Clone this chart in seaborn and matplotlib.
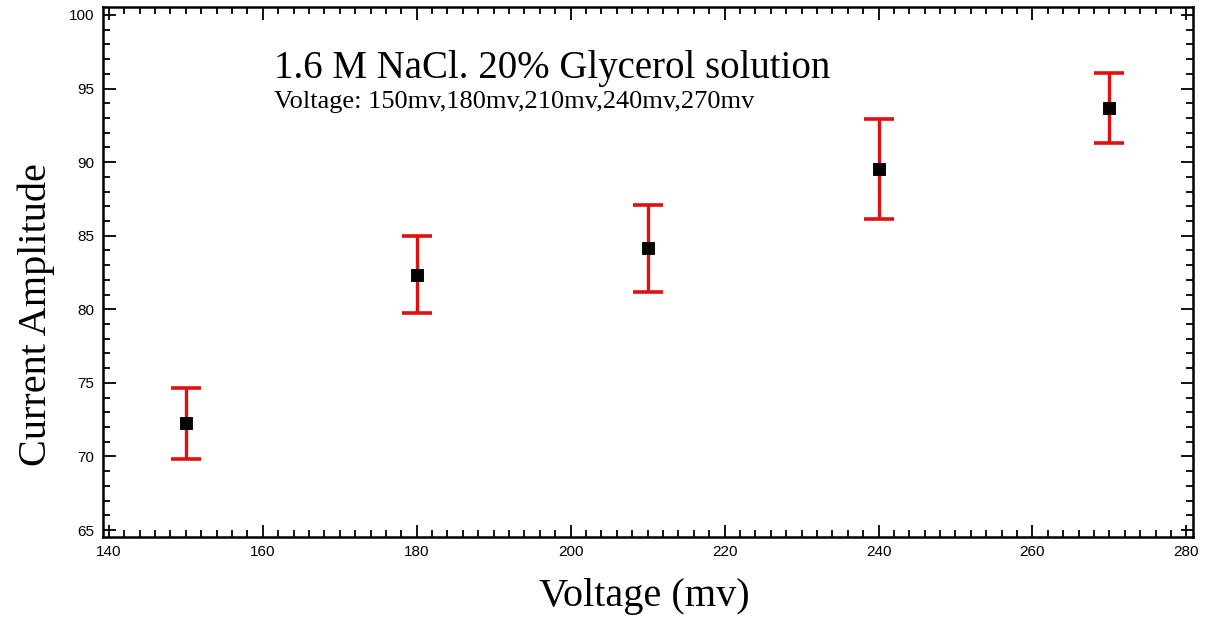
import numpy as np
import pandas as pd
import seaborn as sns
import matplotlib.pyplot as plt
from matplotlib.ticker import MultipleLocator

# Data
voltage = [150, 180, 210, 240, 270]
amplitude = [72.27, 82.35, 84.15, 89.54, 93.69]
amp_err = [2.41, 2.6, 2.95, 3.4, 2.38]

df = pd.DataFrame({"Voltage": voltage, "Amplitude": amplitude, "Err": amp_err})

sns.set_style("ticks")
plt.rcParams['font.family'] = ['Liberation Sans', 'DejaVu Sans']
plt.rcParams['text.color'] = 'black'
plt.rcParams['axes.labelcolor'] = 'black'
plt.rcParams['xtick.color'] = 'black'
plt.rcParams['ytick.color'] = 'black'

fig = plt.figure(figsize=(12.05, 6.17), dpi=100)
ax = fig.add_axes([0.0852, 0.1302, 0.9051, 0.8589])

# Error bars
ax.errorbar(df["Voltage"], df["Amplitude"], yerr=df["Err"], fmt='none',
            ecolor='#e01010', elinewidth=2.4, capsize=11, capthick=2.6, zorder=2)
# Points
sns.scatterplot(data=df, x="Voltage", y="Amplitude", marker='s', s=65,
                color='black', edgecolor='black', ax=ax, zorder=3)

ax.set_xlim(139.2, 280.9)
ax.set_ylim(64.55, 100.56)
ax.xaxis.set_major_locator(MultipleLocator(20))
ax.xaxis.set_minor_locator(MultipleLocator(2))
ax.yaxis.set_major_locator(MultipleLocator(5))
ax.yaxis.set_minor_locator(MultipleLocator(1))
ax.tick_params(which='both', direction='in', top=True, right=True, width=1.3,
               labelsize=11, pad=6)
ax.tick_params(which='major', length=9)
ax.tick_params(which='minor', length=5)
for sp in ax.spines.values():
    sp.set_linewidth(1.8)
    sp.set_color('black')

ax.set_xlabel("Voltage (mv)", family='Liberation Serif', fontsize=29)
ax.xaxis.set_label_coords(0.497, -0.078)
ax.set_ylabel("Current Amplitude", family='Liberation Serif', fontsize=29)
ax.yaxis.set_label_coords(-0.044, 0.420)

ax.text(161.5, 95.73, "1.6 M NaCl. 20% Glycerol solution", family='Liberation Serif',
        fontsize=28, ha='left', va='baseline')
ax.text(161.5, 93.69, "Voltage: 150mv,180mv,210mv,240mv,270mv", family='Liberation Serif',
        fontsize=19, ha='left', va='baseline')

fig.savefig("out.png", dpi=100)
